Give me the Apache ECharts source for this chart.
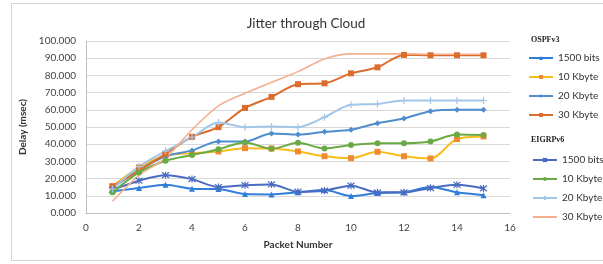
<!DOCTYPE html>
<html>
<head>
<meta charset="utf-8">
<script src="https://cdn.jsdelivr.net/npm/echarts@6/dist/echarts.min.js"></script>
<style>
  html, body { margin: 0; padding: 0; background: #fff; }
  #chart { width: 603px; height: 264px; }
</style>
</head>
<body>
<div id="chart"></div>
<script>
// packet numbers
const packets = [1, 2, 3, 4, 5, 6, 7, 8, 9, 10, 11, 12, 13, 14, 15];

// OSPFv3 delays (msec)
const ospf1500 = [12.6, 14.5, 16.4, 14.1, 13.9, 11.0, 10.8, 12.0, 13.3, 9.9, 11.6, 12.0, 15.1, 12.0, 10.3];
const ospf10k = [15.5, 26.5, 33.3, 34.8, 35.8, 37.7, 37.5, 35.8, 33.0, 31.9, 35.6, 33.0, 31.7, 43.0, 44.5];
const ospf20k = [14.5, 25.0, 33.0, 36.4, 41.6, 41.6, 46.2, 45.6, 47.2, 48.4, 52.2, 55.0, 59.2, 60.0, 60.0];
const ospf30k = [15.5, 24.6, 34.4, 44.3, 49.9, 61.1, 67.5, 74.9, 75.4, 81.2, 84.7, 91.9, 91.7, 91.7, 91.7];

// EIGRPv6 delays (msec)
const eigrp1500 = [13.5, 18.8, 22.0, 19.7, 15.1, 16.2, 16.6, 12.4, 13.0, 15.9, 12.0, 12.0, 14.5, 16.4, 14.3];
const eigrp10k = [12.0, 23.6, 30.4, 33.7, 37.1, 41.0, 37.3, 40.8, 37.5, 39.5, 40.6, 40.6, 41.6, 45.6, 45.3];
const eigrp20k = [14.0, 27.0, 36.0, 44.1, 52.6, 49.9, 50.3, 49.9, 55.7, 62.9, 63.4, 65.4, 65.4, 65.4, 65.4];
const eigrp30k = [6.8, 21.9, 31.9, 48.4, 62.3, 69.6, 76.0, 82.2, 89.6, 92.5, 92.5, 92.5, 92.3, 92.3, 92.3];

const font = 'Lato, "Open Sans", sans-serif';
const asterisk = 'path://M0,0L10,10M10,0L0,10M5,-1L5,11';
const plus = 'path://M5,0L5,10M0,5L10,5';

function pairs(arr) {
  return packets.map((p, i) => [p, arr[i]]);
}

function makeSeries(name, data, lineColor, symbol, markColor, size, width) {
  const s = {
    name: name,
    type: 'line',
    smooth: 0.3,
    data: pairs(data),
    symbol: symbol,
    symbolSize: size,
    showSymbol: symbol !== 'none',
    lineStyle: { color: lineColor, width: width },
    itemStyle: { color: markColor, borderColor: markColor, borderWidth: 0 }
  };
  if (symbol.indexOf('path://') === 0) {
    s.itemStyle = { color: 'none', borderColor: markColor, borderWidth: 1.2 };
  }
  return s;
}

const series = [
  makeSeries('1500 bits', ospf1500, '#2f7ed8', 'triangle', '#2f7ed8', 6, 2),
  makeSeries('10 Kbyte', ospf10k, '#f8bc1c', 'rect', '#ef8a33', 6, 2),
  makeSeries('20 Kbyte', ospf20k, '#4f8dcc', 'diamond', '#4f8dcc', 6, 2),
  makeSeries('30 Kbyte', ospf30k, '#dc6b2c', 'rect', '#dc6b2c', 6, 2),
  makeSeries('1500 bits ', eigrp1500, '#4a6bc2', asterisk, '#4a6bc2', 7, 2),
  makeSeries('10 Kbyte ', eigrp10k, '#6aaa45', 'circle', '#6aaa45', 6, 2),
  makeSeries('20 Kbyte ', eigrp20k, '#a2c6ea', plus, '#a2c6ea', 7, 2),
  makeSeries('30 Kbyte ', eigrp30k, '#f4b08f', 'none', '#f4b08f', 4, 1.6)
];

const legendText = { fontFamily: font, fontSize: 10, color: '#333', lineHeight: 12 };

const chart = echarts.init(document.getElementById('chart'), null, { renderer: 'canvas' });
chart.setOption({
  animation: false,
  title: {
    text: 'Jitter through Cloud',
    left: 301,
    textAlign: 'center',
    top: 12,
    textStyle: { fontFamily: font, fontSize: 13.5, fontWeight: 'normal', color: '#333' }
  },
  graphic: [
    {
      type: 'rect',
      shape: { x: 11.5, y: 3.5, width: 620, height: 257 },
      style: { fill: 'none', stroke: '#d4d4d4', lineWidth: 1 },
      silent: true
    },
    {
      type: 'text', left: 531, top: 36,
      style: { text: 'OSPFv3', font: 'bold 8px "Liberation Serif", serif', fill: '#222' }
    },
    {
      type: 'text', left: 531, top: 136,
      style: { text: 'EIGRPv6', font: 'bold 8px "Liberation Serif", serif', fill: '#222' }
    }
  ],
  legend: [
    {
      orient: 'vertical',
      left: 523,
      top: 47,
      itemWidth: 24,
      itemHeight: 5,
      itemGap: 7,
      textStyle: legendText,
      data: ['1500 bits', '10 Kbyte', '20 Kbyte', '30 Kbyte']
    },
    {
      orient: 'vertical',
      left: 527,
      top: 149,
      itemWidth: 24,
      itemHeight: 5,
      itemGap: 7,
      textStyle: legendText,
      data: ['1500 bits ', '10 Kbyte ', '20 Kbyte ', { name: '30 Kbyte ', itemStyle: { opacity: 0 } }]
    }
  ],
  grid: { left: 86, right: 93, top: 41, bottom: 51 },
  xAxis: {
    type: 'value',
    min: 0,
    max: 16,
    interval: 2,
    name: 'Packet Number',
    nameLocation: 'middle',
    nameGap: 27,
    nameTextStyle: { fontFamily: font, fontSize: 10, fontWeight: 'bold', color: '#333' },
    axisLine: { show: true, lineStyle: { color: '#bfbfbf' } },
    axisTick: { show: false },
    axisLabel: { fontFamily: font, fontSize: 10, color: '#444', margin: 10 },
    splitLine: { show: false }
  },
  yAxis: {
    type: 'value',
    min: 0,
    max: 100,
    interval: 10,
    name: 'Delay (msec)',
    nameLocation: 'middle',
    nameGap: 50,
    nameTextStyle: { fontFamily: font, fontSize: 10, fontWeight: 'bold', color: '#333' },
    axisLine: { show: true, lineStyle: { color: '#bfbfbf' } },
    axisTick: { show: false },
    axisLabel: {
      fontFamily: font, fontSize: 10, color: '#444', margin: 10,
      formatter: v => v.toFixed(3)
    },
    splitLine: { lineStyle: { color: '#d9d9d9' } }
  },
  series: series
});
</script>
</body>
</html>
